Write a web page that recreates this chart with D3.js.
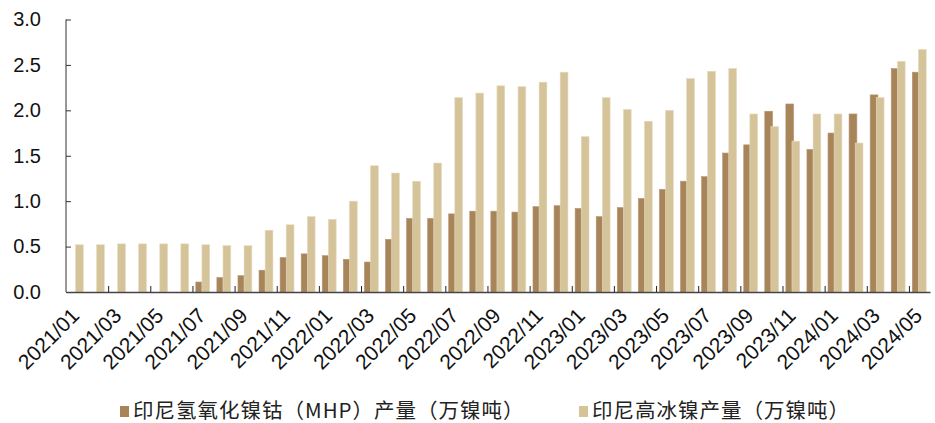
<!DOCTYPE html>
<html><head><meta charset="utf-8">
<script src="https://cdn.jsdelivr.net/npm/d3@7"></script>
<style>
body{margin:0;background:#fff;}
svg{display:block;}
</style></head>
<body>
<svg id="c" width="935" height="423"></svg>
<script>
const months = [
 "2021/01","2021/02","2021/03","2021/04","2021/05","2021/06","2021/07","2021/08","2021/09","2021/10","2021/11","2021/12",
 "2022/01","2022/02","2022/03","2022/04","2022/05","2022/06","2022/07","2022/08","2022/09","2022/10","2022/11","2022/12",
 "2023/01","2023/02","2023/03","2023/04","2023/05","2023/06","2023/07","2023/08","2023/09","2023/10","2023/11","2023/12",
 "2024/01","2024/02","2024/03","2024/04","2024/05"];
const mhp = [
 0,0,0,0,0,0,0.11,0.16,0.18,0.24,0.38,0.42,
 0.40,0.36,0.33,0.58,0.81,0.81,0.86,0.89,0.89,0.88,0.94,0.95,
 0.92,0.83,0.93,1.03,1.13,1.22,1.27,1.53,1.62,1.99,2.07,1.57,
 1.75,1.96,2.17,2.46,2.42];
const matte = [
 0.52,0.52,0.53,0.53,0.53,0.53,0.52,0.51,0.51,0.68,0.74,0.83,
 0.80,1.00,1.39,1.31,1.22,1.42,2.14,2.19,2.27,2.26,2.31,2.42,
 1.71,2.14,2.01,1.88,2.00,2.35,2.43,2.46,1.96,1.82,1.66,1.96,
 1.96,1.64,2.14,2.54,2.67];
const yTicks = [0,0.5,1.0,1.5,2.0,2.5,3.0];
const seriesNames = ["印尼氢氧化镍钴（MHP）产量（万镍吨）","印尼高冰镍产量（万镍吨）"];
const colors = ["#a8845b","#d5c49a"];

const svg = d3.select("#c");
const L = 66, R = 930, T = 19.5, B = 292;
const x = d3.scaleBand().domain(months).range([L, R]).padding(0);
const xb = d3.scaleLinear().domain([0, months.length]).range([L, R]);
const y = d3.scaleLinear().domain([0, 3]).range([B, T]);
const bw = x.bandwidth();
const barW = bw * 0.37;

// bars
const g = svg.append("g");
g.selectAll("rect.mhp").data(mhp).join("rect")
  .attr("class","mhp")
  .attr("x", (d,i) => x(months[i]) + bw*0.16)
  .attr("width", barW)
  .attr("y", d => y(d))
  .attr("height", d => B - y(d))
  .attr("fill", colors[0])
  .attr("stroke", "#b8966d").attr("stroke-width", 0.6);
g.selectAll("rect.mt").data(matte).join("rect")
  .attr("class","mt")
  .attr("x", (d,i) => x(months[i]) + bw*0.45)
  .attr("width", barW)
  .attr("y", d => y(d))
  .attr("height", d => B - y(d))
  .attr("fill", colors[1])
  .attr("stroke", "#e6dbc0").attr("stroke-width", 0.6);

// y axis
const ya = svg.append("g").attr("transform", `translate(${L},0)`)
  .call(d3.axisLeft(y).tickValues(yTicks).tickFormat(d3.format(".1f")).tickSize(-5).tickPadding(25));
ya.select(".domain").attr("stroke","#333").attr("d", `M0,${T}V${B}`);
ya.selectAll(".tick line").attr("stroke","#333");
ya.selectAll("text").attr("font-family","'Liberation Sans', Arial, sans-serif").attr("font-size","20px").attr("fill","#111");

// x axis boundary ticks
const tv = d3.range(2, months.length, 2);
const xa = svg.append("g").attr("transform", `translate(0,${B})`)
  .call(d3.axisBottom(xb).tickValues(tv).tickFormat("").tickSize(-6).tickSizeOuter(0));
xa.select(".domain").attr("stroke","#444").attr("stroke-width",1.5);
xa.selectAll(".tick line").attr("stroke","#222");

// x labels
const labels = months.filter((m,i) => i % 2 === 0);
const xl = svg.append("g").attr("transform", `translate(0,${B})`)
  .call(d3.axisBottom(x).tickValues(labels).tickSize(0).tickPadding(0));
xl.select(".domain").remove();
xl.selectAll("text")
  .attr("font-family","'Liberation Sans', Arial, sans-serif").attr("font-size","21px").attr("fill","#111")
  .attr("text-anchor","end").attr("dy",null).attr("y",0)
  .attr("transform","translate(4,25) rotate(-45)");

// legend
const lg = svg.append("g").attr("font-family","'Noto Sans CJK SC', sans-serif").attr("font-size","20.5px").attr("fill","#222");
const lx = [120, 579];
seriesNames.forEach((n,i) => {
  lg.append("rect").attr("x", lx[i]).attr("y", 406).attr("width", 9).attr("height", 11).attr("fill", colors[i]);
  lg.append("text").attr("x", lx[i] + 13).attr("y", 418).attr("letter-spacing","1px").text(n);
});
</script>
</body></html>
